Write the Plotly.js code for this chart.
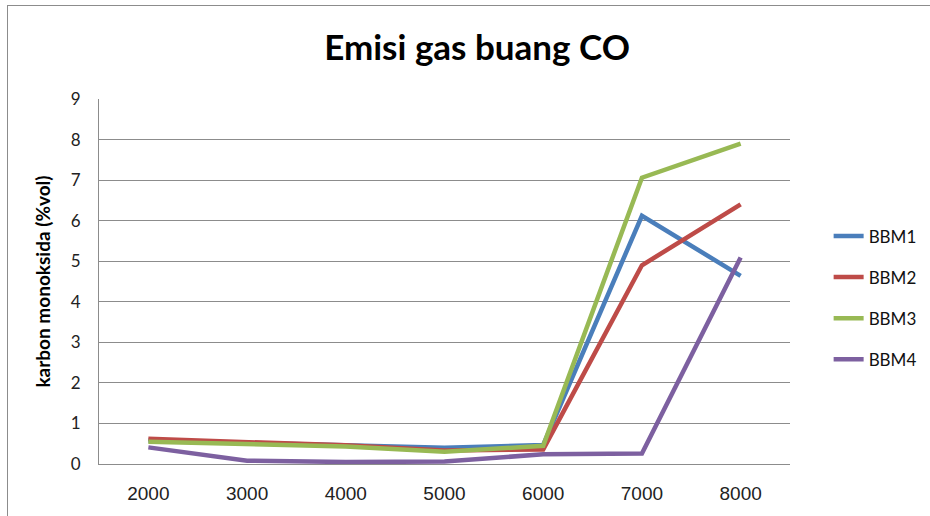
<!DOCTYPE html>
<html>
<head>
<meta charset="utf-8">
<script src="https://cdn.plot.ly/plotly-3.0.1.min.js"></script>
<style>
  html, body { margin: 0; padding: 0; background: #fff; }
  #wrap { position: relative; width: 930px; height: 516px; overflow: hidden; }
  #frame { position: absolute; left: 7px; top: 5px; width: 940px; height: 540px; border: 1px solid #8c8c8c; box-sizing: border-box; pointer-events: none; }
  #chart { position: absolute; left: 0; top: 0; width: 930px; height: 516px; }
</style>
</head>
<body>
<div id="wrap">
  <div id="chart"></div>
  <div id="frame"></div>
</div>
<script>
const categories = ["2000", "3000", "4000", "5000", "6000", "7000", "8000"];
const bbm1 = [0.58, 0.52, 0.46, 0.40, 0.47, 6.12, 4.64];
const bbm2 = [0.62, 0.55, 0.46, 0.33, 0.36, 4.90, 6.40];
const bbm3 = [0.55, 0.50, 0.43, 0.30, 0.45, 7.06, 7.90];
const bbm4 = [0.41, 0.08, 0.05, 0.06, 0.24, 0.26, 5.09];
const seriesNames = ["BBM1", "BBM2", "BBM3", "BBM4"];
const seriesColors = ["#4A7EBB", "#BE4B48", "#98B954", "#7D60A0"];
const seriesData = [bbm1, bbm2, bbm3, bbm4];

const traces = seriesData.map((ys, i) => ({
  type: "scatter",
  mode: "lines",
  x: categories,
  y: ys,
  name: seriesNames[i],
  legendgroup: seriesNames[i],
  line: { color: seriesColors[i], width: 4.5 }
}));

const layout = {
  width: 930,
  height: 516,
  paper_bgcolor: "#ffffff",
  plot_bgcolor: "#ffffff",
  margin: { l: 99, r: 140, t: 99, b: 52, autoexpand: false },
  title: {
    text: "<b>Emisi gas buang CO</b>",
    font: { family: "Lato, 'Open Sans', sans-serif", size: 35, color: "#000" },
    x: 0.513, xref: "container", xanchor: "center",
    y: 0.907, yref: "container", yanchor: "middle"
  },
  xaxis: {
    type: "category",
    range: [-0.5, 6.5],
    showgrid: false,
    showline: true,
    linecolor: "#8c8c8c",
    linewidth: 1,
    ticks: "",
    ticklabelstandoff: 12,
    tickfont: { family: "'Liberation Sans', Arial, sans-serif", size: 19, color: "#222" },
    zeroline: false,
    fixedrange: true
  },
  yaxis: {
    range: [0, 9],
    dtick: 1,
    tick0: 0,
    showgrid: true,
    gridcolor: "#8c8c8c",
    gridwidth: 1,
    showline: true,
    linecolor: "#8c8c8c",
    linewidth: 1,
    zeroline: false,
    ticks: "",
    ticklabelstandoff: 14,
    tickfont: { family: "Lato, 'Open Sans', sans-serif", size: 17, color: "#222" },
    title: {
      text: "<b>karbon monoksida (%vol)</b>",
      font: { family: "Lato, 'Open Sans', sans-serif", size: 19, color: "#000" },
      standoff: 15
    },
    fixedrange: true
  },
  legend: {
    xref: "container",
    x: 0.891, xanchor: "left",
    y: 0.455, yanchor: "middle",
    font: { family: "Lato, 'Open Sans', sans-serif", size: 17, color: "#111" },
    tracegroupgap: 16,
    itemwidth: 30,
    bgcolor: "rgba(0,0,0,0)"
  },
  showlegend: true
};

Plotly.newPlot("chart", traces, layout, { displayModeBar: false, staticPlot: true });
</script>
</body>
</html>
